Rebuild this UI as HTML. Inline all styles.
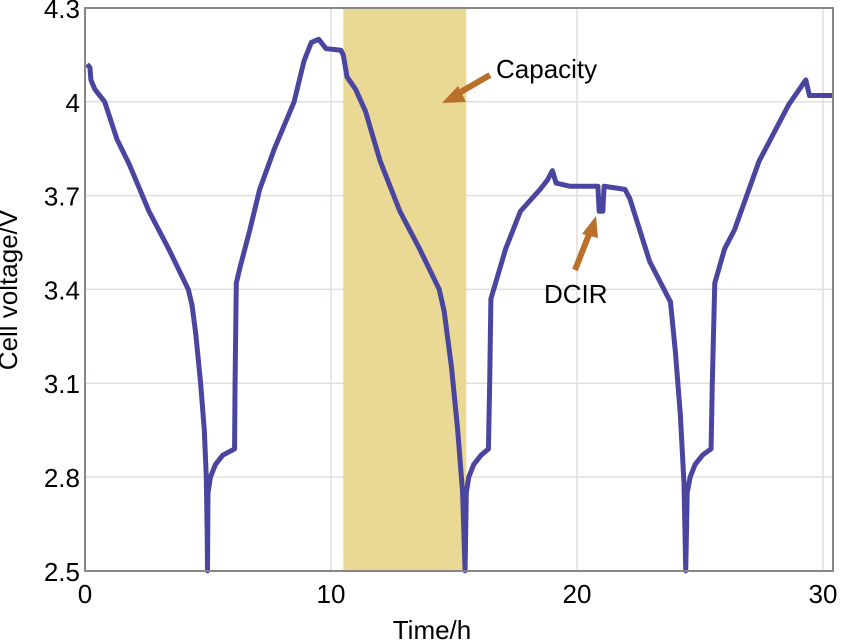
<!DOCTYPE html>
<html><head><meta charset="utf-8"><style>
html,body{margin:0;padding:0;background:#fff;}
svg{display:block;font-family:"Liberation Sans",Arial,sans-serif;}
</style></head><body>
<svg id="chart" width="847" height="641" viewBox="0 0 847 641">
<rect x="0" y="0" width="847" height="641" fill="#fff"/>
<g id="grid"></g>
<rect id="shade" fill="#ead895"/>
<g id="series"></g>
<rect x="85" y="8" width="748" height="563" fill="none" stroke="#8a8580" stroke-width="2"/>
<g id="ticks"></g>
<text x="17" y="290" font-size="26" text-anchor="middle" transform="rotate(-90 17 290)">Cell voltage/V</text>
<text x="432" y="639" font-size="26" text-anchor="middle">Time/h</text>
<g>
<line x1="490" y1="75" x2="452" y2="97" stroke="#b8702a" stroke-width="6"/>
<polygon points="442,103 458,86 466,102" fill="#b8702a"/>
<text x="496" y="78" font-size="26">Capacity</text>
</g>
<g>
<line x1="575" y1="270" x2="590" y2="232" stroke="#b8702a" stroke-width="6"/>
<polygon points="596,216 582,234 598,238" fill="#b8702a"/>
<text x="544" y="303" font-size="26">DCIR</text>
</g>
</svg>
<script>
const xTicks=[0,10,20,30];
const yTicks=[2.5,2.8,3.1,3.4,3.7,4.0,4.3];
const yTickLabels=["2.5","2.8","3.1","3.4","3.7","4","4.3"];
const shadeRange=[10.5,15.5];
const times=[0.08,0.2,0.24,0.4,0.8,1.3,1.8,2.6,3.4,4.2,4.35,4.5,4.7,4.85,4.93,4.97,4.98,5.0,5.1,5.3,5.6,6.08,6.1,6.15,6.3,6.7,7.1,7.7,8.5,8.9,9.2,9.5,9.8,10.4,10.5,10.65,11.0,11.4,12.0,12.8,13.6,14.4,14.6,14.9,15.15,15.35,15.45,15.5,15.6,15.8,16.1,16.4,16.45,16.5,17.1,17.7,18.5,18.8,19.0,19.15,19.7,20.85,20.9,21.05,21.1,21.95,22.15,22.95,23.8,24.0,24.2,24.35,24.42,24.48,24.6,24.8,25.1,25.45,25.5,25.6,26.0,26.4,27.4,28.6,29.3,29.45,29.7,30.4];
const volts=[4.12,4.11,4.07,4.04,4.0,3.88,3.8,3.65,3.53,3.40,3.35,3.26,3.1,2.95,2.8,2.6,2.5,2.75,2.8,2.84,2.87,2.89,3.1,3.42,3.47,3.59,3.72,3.85,4.0,4.13,4.19,4.2,4.17,4.165,4.15,4.08,4.04,3.97,3.81,3.65,3.53,3.40,3.33,3.15,2.95,2.75,2.5,2.75,2.8,2.84,2.87,2.89,3.1,3.37,3.53,3.65,3.72,3.75,3.78,3.74,3.73,3.73,3.65,3.65,3.73,3.72,3.69,3.49,3.36,3.2,3.0,2.78,2.5,2.75,2.8,2.84,2.87,2.89,3.1,3.42,3.53,3.59,3.81,3.99,4.07,4.02,4.02,4.02];
const X0=85,PXH=24.6,Y0=8,PXV=312.7;
const xs=t=>X0+t*PXH, ys=v=>Y0+(4.3-v)*PXV;
const NS="http://www.w3.org/2000/svg";
const grid=document.getElementById('grid'),ticks=document.getElementById('ticks');
xTicks.forEach(t=>{
 const l=document.createElementNS(NS,'line');
 l.setAttribute('x1',xs(t));l.setAttribute('x2',xs(t));l.setAttribute('y1',8);l.setAttribute('y2',571);
 l.setAttribute('stroke','#e2dedc');l.setAttribute('stroke-width','1.5');
 
 
 grid.appendChild(l);
 const tx=document.createElementNS(NS,'text');
 tx.setAttribute('x',xs(t));tx.setAttribute('y',603);tx.setAttribute('font-size','26');tx.setAttribute('text-anchor','middle');
 tx.textContent=t;
 
 
 ticks.appendChild(tx);
});
yTicks.forEach((v,i)=>{
 const l=document.createElementNS(NS,'line');
 l.setAttribute('x1',85);l.setAttribute('x2',833);l.setAttribute('y1',ys(v));l.setAttribute('y2',ys(v));
 l.setAttribute('stroke','#e2dedc');l.setAttribute('stroke-width','1.5');
 
 
 grid.appendChild(l);
 const tx=document.createElementNS(NS,'text');
 tx.setAttribute('x',80);tx.setAttribute('y',ys(v)+10);tx.setAttribute('font-size','26');tx.setAttribute('text-anchor','end');
 tx.textContent=yTickLabels[i];
 
 
 ticks.appendChild(tx);
});
const sh=document.getElementById('shade');
sh.setAttribute('x',xs(shadeRange[0]));sh.setAttribute('y',9);
sh.setAttribute('width',xs(shadeRange[1])-xs(shadeRange[0]));sh.setAttribute('height',561);
const p=document.createElementNS(NS,'polyline');
p.setAttribute('points',times.map((t,i)=>xs(t)+','+ys(volts[i])).join(' '));
p.setAttribute('fill','none');p.setAttribute('stroke','#4a46a0');p.setAttribute('stroke-width','5');p.setAttribute('stroke-linejoin','round');


document.getElementById('series').appendChild(p);
</script>
</body></html>
